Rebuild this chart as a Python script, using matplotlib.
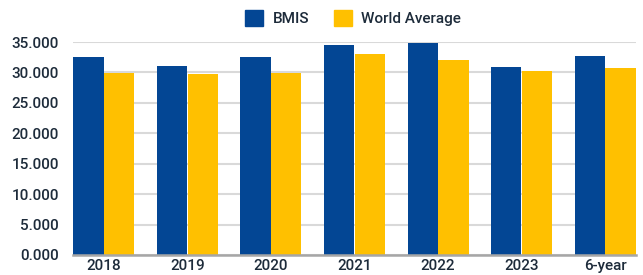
import matplotlib
matplotlib.use("Agg")
import matplotlib.pyplot as plt
import numpy as np
from matplotlib.ticker import FuncFormatter, MultipleLocator
from matplotlib.patches import Patch

categories = ["2018", "2019", "2020", "2021", "2022", "2023", "6-year"]
bmis = [32530, 31060, 32500, 34500, 34800, 30900, 32700]
world_avg = [29960, 29750, 29900, 33000, 32000, 30200, 30700]

BLUE = "#034694"
YELLOW = "#FFC000"
TEXT = "#1D2B3A"

plt.rcParams['font.family'] = ['Roboto', 'DejaVu Sans']

fig = plt.figure(figsize=(6.43, 2.75), dpi=100)
ax = fig.add_axes([73/643, 1 - 255/275, (636 - 73)/643, (255 - 42)/275])

x = np.arange(len(categories))
w = 0.362
ax.bar(x - w/2 - 0.003, bmis, width=w, color=BLUE, zorder=3, label="BMIS")
ax.bar(x + w/2 + 0.003, world_avg, width=w, color=YELLOW, zorder=3, label="World Average")

ax.set_xlim(-0.368, 6.368)
ax.set_ylim(0, 35000)
ax.yaxis.set_major_locator(MultipleLocator(5000))
ax.yaxis.set_major_formatter(FuncFormatter(lambda v, p: f"{v:,.0f}".replace(",", ".") if v else "0.000"))
ax.set_xticks(x)
ax.set_xticklabels(categories)

ax.grid(axis='y', color="#D9D9D9", linewidth=1.5, zorder=0)
ax.set_axisbelow(True)
for s in ["top", "right", "left"]:
    ax.spines[s].set_visible(False)
ax.spines["bottom"].set_color("#A6A6A6")
ax.spines["bottom"].set_linewidth(1.8)
ax.spines["bottom"].set_zorder(4)

ax.tick_params(axis='both', length=0, colors=TEXT, labelsize=11)
ax.tick_params(axis='y', pad=10)
ax.tick_params(axis='x', pad=3)
for lbl in ax.get_xticklabels() + ax.get_yticklabels():
    lbl.set_fontweight('medium')

handles = [Patch(color=BLUE, label="BMIS"), Patch(color=YELLOW, label="World Average")]
leg = fig.legend(handles=handles, loc='center', bbox_to_anchor=(353/643, 1 - 18/275),
                 ncol=2, frameon=False, fontsize=11, handlelength=1.2, handleheight=1.2,
                 handletextpad=0.6, columnspacing=1.6)
for t in leg.get_texts():
    t.set_color(TEXT)
    t.set_fontweight('medium')

fig.savefig("out.png", dpi=100)
